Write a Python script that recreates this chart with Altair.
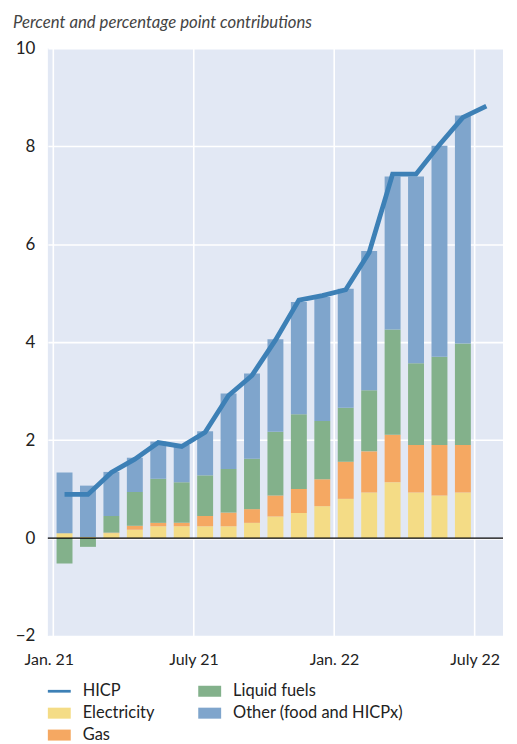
import altair as alt
import pandas as pd

# ---- data ----
months = ["Jan 21", "Feb 21", "Mar 21", "Apr 21", "May 21", "Jun 21", "Jul 21", "Aug 21", "Sep 21",
          "Oct 21", "Nov 21", "Dec 21", "Jan 22", "Feb 22", "Mar 22", "Apr 22", "May 22", "Jun 22"]
electricity = [0.10, 0.02, 0.10, 0.17, 0.24, 0.24, 0.24, 0.24, 0.31, 0.44, 0.51, 0.65, 0.80, 0.93, 1.14, 0.93, 0.87, 0.93]
gas = [0.00, 0.00, 0.01, 0.08, 0.07, 0.07, 0.21, 0.28, 0.28, 0.43, 0.49, 0.55, 0.76, 0.84, 0.97, 0.97, 1.03, 0.97]
liquid_fuels = [-0.52, -0.18, 0.34, 0.69, 0.90, 0.83, 0.83, 0.89, 1.03, 1.30, 1.53, 1.19, 1.10, 1.25, 2.15, 1.67, 1.80, 2.07]
other = [1.24, 1.05, 0.90, 0.70, 0.76, 0.76, 0.90, 1.54, 1.74, 1.89, 2.29, 2.53, 2.43, 2.84, 3.12, 3.81, 4.31, 4.66]

hicp_months = months + ["Jul 22"]
hicp = [0.89, 0.89, 1.34, 1.61, 1.95, 1.87, 2.16, 2.91, 3.32, 4.04, 4.86, 4.95, 5.07, 5.83, 7.43, 7.43, 8.03, 8.59, 8.82]

tick_positions = [0, 6, 12, 18]
tick_labels = ["Jan. 21", "July 21", "Jan. 22", "July 22"]

series_names = ["Electricity", "Gas", "Liquid fuels", "Other (food and HICPx)"]
series_values = [electricity, gas, liquid_fuels, other]

legend_order = ["HICP", "Electricity", "Gas", "Liquid fuels", "Other (food and HICPx)"]
legend_colors = ["#3d80b6", "#f4dc86", "#f5a862", "#83b18b", "#7fa5cc"]

TITLE = "Percent and percentage point contributions"
FONT = "Lato"

# ---- tables ----
rows = []
for k, (name, vals) in enumerate(zip(series_names, series_values)):
    for i, v in enumerate(vals):
        rows.append({"month": months[i], "pos": i + 0.5, "series": name, "value": v, "order": k})
bars_df = pd.DataFrame(rows)
hicp_df = pd.DataFrame({"month": hicp_months, "pos": [i + 0.5 for i in range(len(hicp_months))], "value": hicp})
zero_df = pd.DataFrame({"y": [0]})

label_expr = "[" + ",".join("'%s'" % t for t in tick_labels) + "][datum.value/6]"

x_enc = alt.X("pos:Q", title=None,
              scale=alt.Scale(domain=[0, 19], nice=False, zero=False),
              axis=alt.Axis(values=tick_positions, labelExpr=label_expr, grid=True, gridColor="white",
                            gridWidth=1.6, ticks=False, domain=False, labelPadding=16,
                            labelFontSize=16, labelFont=FONT, labelColor="#222",
                            labelOffset={"condition": {"test": "datum.value == 0", "value": -4}, "value": 0}))
y_scale = alt.Scale(domain=[-2, 10], nice=False)
y_axis = alt.Axis(values=[-2, 0, 2, 4, 6, 8, 10], grid=True, gridColor="white", gridWidth=1.6,
                  ticks=False, domain=False, labelPadding=13, labelFontSize=17, labelFont=FONT,
                  labelColor="#222")

bars = alt.Chart(bars_df).mark_bar(width=16).encode(
    x=x_enc,
    y=alt.Y("value:Q", stack="zero", scale=y_scale, axis=y_axis, title=None),
    color=alt.Color("series:N",
                    scale=alt.Scale(domain=legend_order, range=legend_colors),
                    legend=alt.Legend(
                        title=None, orient="none", legendX=0, legendY=634, columns=2,
                        symbolType={"expr": "datum.value == 'HICP' ? 'M-1,-0.12H1V0.12H-1Z' : 'M-1,-0.48H1V0.48H-1Z'"},
                        symbolSize=529, symbolStrokeWidth=0, labelFontSize=16.5, labelFont=FONT,
                        labelColor="#222", labelOffset=12, labelLimit=400, columnPadding=43,
                        rowPadding=2)),
    order=alt.Order("order:Q"),
)

zero = alt.Chart(zero_df).mark_rule(color="black", strokeWidth=1.3).encode(y=alt.Y("y:Q"))

line = alt.Chart(hicp_df).mark_line(color="#3d80b6", strokeWidth=4.8).encode(
    x=alt.X("pos:Q"), y=alt.Y("value:Q"))

chart = alt.layer(bars, zero, line).properties(
    width=457, height=590,
    title=alt.TitleParams(TITLE, anchor="start", frame="group", fontStyle="italic", fontSize=16.8,
                          font=FONT, fontWeight="normal", color="#444", dx=-35, offset=8),
).configure_view(fill="#e2e8f4", stroke=None)

chart.save("out.html", embed_options={"renderer": "svg", "actions": False})
